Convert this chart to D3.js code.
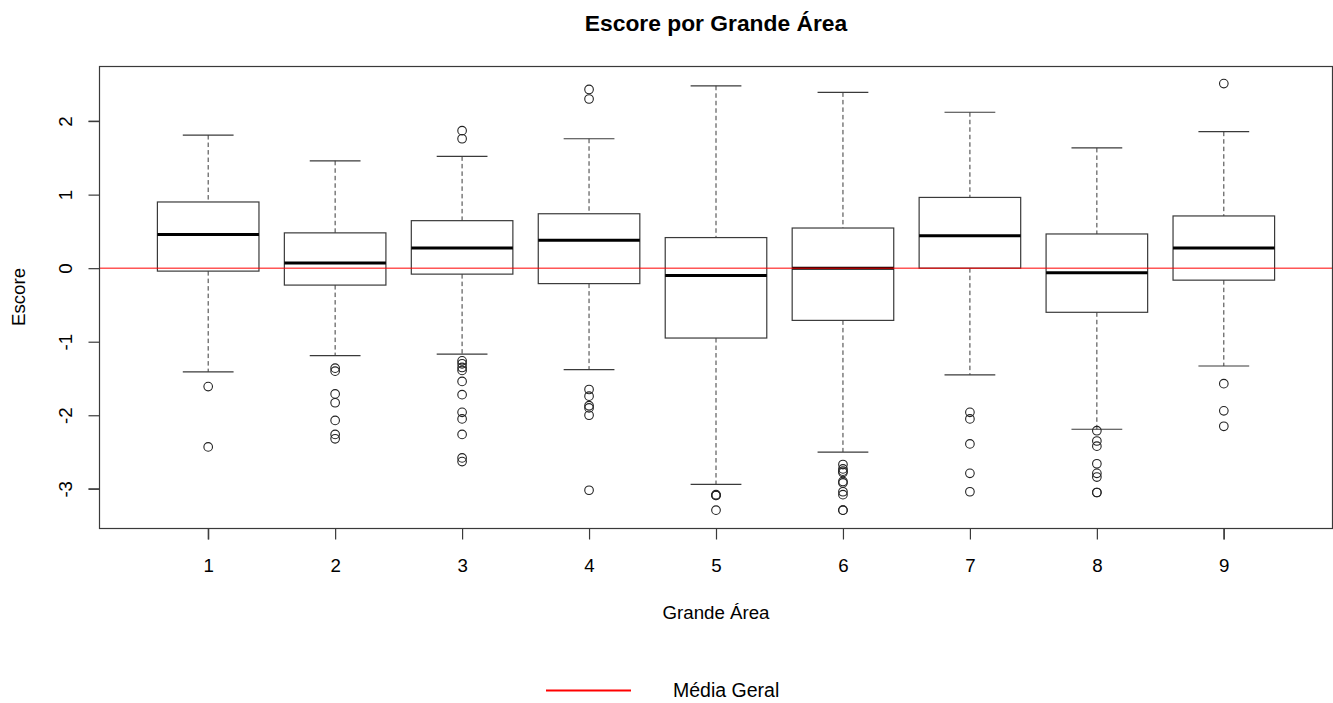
<!DOCTYPE html>
<html>
<head>
<meta charset="utf-8">
<script src="https://cdn.jsdelivr.net/npm/d3@7"></script>
<style>
  html, body { margin: 0; padding: 0; background: #fff; }
  svg { display: block; font-family: "Liberation Sans", Arial, Helvetica, sans-serif; }
</style>
</head>
<body>
<svg id="chart" width="1333" height="703"></svg>
<script>
// ---- Data ----
const categories   = ["1", "2", "3", "4", "5", "6", "7", "8", "9"];
const whiskerHigh  = [1.81, 1.46, 1.52, 1.76, 2.48, 2.39, 2.12, 1.635, 1.856];
const q3Values     = [0.90, 0.48, 0.646, 0.74, 0.416, 0.546, 0.962, 0.465, 0.71];
const medianValues = [0.457, 0.072, 0.275, 0.38, -0.10, 0.00, 0.44, -0.063, 0.275];
const q1Values     = [-0.04, -0.23, -0.081, -0.21, -0.95, -0.71, 0.00, -0.60, -0.163];
const whiskerLow   = [-1.41, -1.19, -1.17, -1.38, -2.94, -2.50, -1.45, -2.19, -1.33];
const outliers = [
  [-1.61, -2.43],
  [-1.36, -1.40, -1.71, -1.83, -2.07, -2.26, -2.32],
  [1.87, 1.76, -1.26, -1.30, -1.35, -1.39, -1.54, -1.72, -1.96, -2.05, -2.26, -2.58, -2.63],
  [2.43, 2.30, -1.65, -1.74, -1.87, -1.90, -2.00, -3.02],
  [-3.08, -3.09, -3.09, -3.29],
  [-2.67, -2.73, -2.76, -2.78, -2.90, -2.92, -3.04, -3.08, -3.29, -3.29],
  [-1.96, -2.05, -2.39, -2.79, -3.04],
  [-2.21, -2.35, -2.42, -2.66, -2.79, -2.84, -3.05, -3.05],
  [2.51, -1.57, -1.94, -2.15]
];
const overallMean = 0;
const yTicks = [-3, -2, -1, 0, 1, 2];
const yTickLabels = ["-3", "-2", "-1", "0", "1", "2"];
const titleText = "Escore por Grande Área";
const xLabel = "Grande Área";
const yLabel = "Escore";
const legendLabel = "Média Geral";

// ---- Layout ----
const svg = d3.select("#chart");
const plot = { left: 99, right: 1333, top: 66, bottom: 528 };
const FONT = "'Liberation Sans', Arial, Helvetica, sans-serif";
const LBL = 18.7;

const x = d3.scaleLinear().domain([0.14, 9.86]).range([plot.left, plot.right]);
const y = d3.scaleLinear().domain([-3.533, 2.749]).range([plot.bottom, plot.top]);
const unit = x(2) - x(1);
const boxW = 0.8 * unit;
const capW = 0.4 * unit;
const LINE = "#3a3a3a";

const data = categories.map((c, i) => ({
  cat: c, pos: i + 1,
  hi: whiskerHigh[i], q3: q3Values[i], med: medianValues[i], q1: q1Values[i], lo: whiskerLow[i],
  out: outliers[i]
}));

const g = svg.append("g");

// boxes
const box = g.selectAll("g.box").data(data).join("g").attr("class", "box");

box.append("line")
  .attr("x1", d => x(d.pos)).attr("x2", d => x(d.pos))
  .attr("y1", d => y(d.hi)).attr("y2", d => y(d.q3))
  .attr("stroke", LINE).attr("stroke-width", 1).attr("stroke-dasharray", "4.5,3");
box.append("line")
  .attr("x1", d => x(d.pos)).attr("x2", d => x(d.pos))
  .attr("y1", d => y(d.q1)).attr("y2", d => y(d.lo))
  .attr("stroke", LINE).attr("stroke-width", 1).attr("stroke-dasharray", "4.5,3");
box.append("line")
  .attr("x1", d => x(d.pos) - capW / 2).attr("x2", d => x(d.pos) + capW / 2)
  .attr("y1", d => y(d.hi)).attr("y2", d => y(d.hi))
  .attr("stroke", LINE).attr("stroke-width", 1.2);
box.append("line")
  .attr("x1", d => x(d.pos) - capW / 2).attr("x2", d => x(d.pos) + capW / 2)
  .attr("y1", d => y(d.lo)).attr("y2", d => y(d.lo))
  .attr("stroke", LINE).attr("stroke-width", 1.2);
box.append("rect")
  .attr("x", d => x(d.pos) - boxW / 2).attr("width", boxW)
  .attr("y", d => y(d.q3)).attr("height", d => y(d.q1) - y(d.q3))
  .attr("fill", "none").attr("stroke", LINE).attr("stroke-width", 1.2);
box.append("line")
  .attr("x1", d => x(d.pos) - boxW / 2).attr("x2", d => x(d.pos) + boxW / 2)
  .attr("y1", d => y(d.med)).attr("y2", d => y(d.med))
  .attr("stroke", "#000").attr("stroke-width", 3);
box.selectAll("circle").data(d => d.out.map(v => ({ pos: d.pos, v })))
  .join("circle")
  .attr("cx", d => x(d.pos)).attr("cy", d => y(d.v)).attr("r", 4.3)
  .attr("fill", "none").attr("stroke", "#222").attr("stroke-width", 1.1);

// mean line
g.append("line")
  .attr("x1", plot.left).attr("x2", plot.right)
  .attr("y1", y(overallMean)).attr("y2", y(overallMean))
  .attr("stroke", "#ff0000").attr("stroke-width", 1);

// plot frame
svg.append("rect")
  .attr("x", plot.left + 0.5).attr("y", plot.top + 0.5)
  .attr("width", plot.right - plot.left - 1).attr("height", plot.bottom - plot.top)
  .attr("fill", "none").attr("stroke", LINE).attr("stroke-width", 1.2);

// y axis
const yAxis = d3.axisLeft(y).tickValues(yTicks).tickSize(11).tickPadding(0)
  .tickFormat((d, i) => yTickLabels[i]);
const yAx = svg.append("g").attr("transform", `translate(${plot.left + 0.5},0)`).call(yAxis);
yAx.attr("font-size", null).attr("font-family", null);
yAx.select(".domain").attr("d", `M-11,${y(-3)}H0V${y(2)}H-11`).attr("stroke", LINE);
yAx.selectAll(".tick line").attr("stroke", LINE).attr("stroke-width", 1.2);
yAx.selectAll(".tick text")
  .attr("x", null).attr("dy", null)
  .attr("transform", `translate(${72 - (plot.left + 0.5)},0) rotate(-90)`)
  .attr("text-anchor", "middle")
  .attr("fill", "#000")
  .style("font-size", LBL + "px")
  .style("font-family", FONT);

// x axis
const xAxis = d3.axisBottom(x).tickValues(data.map(d => d.pos)).tickSize(11).tickPadding(0)
  .tickFormat((d, i) => categories[i]);
const xAx = svg.append("g").attr("transform", `translate(0,${plot.bottom + 0.5})`).call(xAxis);
xAx.attr("font-size", null).attr("font-family", null);
xAx.select(".domain").attr("d", `M${x(1)},11V0H${x(9)}V11`).attr("stroke", LINE);
xAx.selectAll(".tick line").attr("stroke", LINE).attr("stroke-width", 1.2);
xAx.selectAll(".tick text")
  .attr("y", 572 - (plot.bottom + 0.5)).attr("dy", null)
  .attr("fill", "#000")
  .style("font-size", LBL + "px")
  .style("font-family", FONT);

// title and labels
const cx = (plot.left + plot.right) / 2;
svg.append("text").attr("x", cx).attr("y", 31)
  .attr("text-anchor", "middle")
  .style("font-size", "22.8px").attr("font-weight", "bold").text(titleText);
svg.append("text").attr("x", cx).attr("y", 619)
  .attr("text-anchor", "middle")
  .style("font-size", LBL + "px").text(xLabel);
svg.append("text")
  .attr("transform", `translate(25,${(plot.top + plot.bottom) / 2}) rotate(-90)`)
  .attr("text-anchor", "middle")
  .style("font-size", LBL + "px").text(yLabel);

// legend
svg.append("line").attr("x1", 546).attr("x2", 631).attr("y1", 690.5).attr("y2", 690.5)
  .attr("stroke", "#ff0000").attr("stroke-width", 2);
svg.append("text").attr("x", 673).attr("y", 697)
  .style("font-size", "19.5px").text(legendLabel);
</script>
</body>
</html>
